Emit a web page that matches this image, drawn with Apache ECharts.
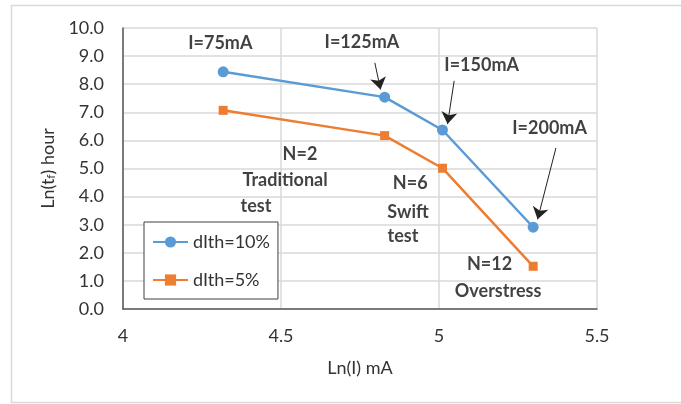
<!DOCTYPE html>
<html>
<head>
<meta charset="utf-8">
<script src="https://cdn.jsdelivr.net/npm/echarts@6/dist/echarts.min.js"></script>
<style>
  html, body { margin: 0; padding: 0; background: #fff; }
  #chart { width: 681px; height: 404px; }
</style>
</head>
<body>
<div id="chart"></div>
<script>
// Ln(I) for I = 75, 125, 150, 200 mA
var lnCurrent = [4.317, 4.828, 5.011, 5.298];
var dIth10 = [8.44, 7.54, 6.37, 2.91];
var dIth5 = [7.07, 6.17, 5.01, 1.52];
var seriesNames = ['dIth=10%', 'dIth=5%'];

// text notes, placed in data space [x, y, text]
var notes = [
  [4.308, 9.46, 'I=75mA'],
  [4.756, 9.49, 'I=125mA'],
  [5.135, 8.67, 'I=150mA'],
  [5.350, 6.45, 'I=200mA'],
  [4.560, 5.50, 'N=2'],
  [4.513, 4.59, 'Traditional'],
  [4.421, 3.67, 'test'],
  [4.909, 4.47, 'N=6'],
  [4.902, 3.46, 'Swift'],
  [4.886, 2.60, 'test'],
  [5.160, 1.60, 'N=12'],
  [5.187, 0.64, 'Overstress']
];
// arrows [fromX, fromY, toX, toY]
var arrows = [
  [4.797, 8.76, 4.815, 7.81],
  [5.048, 8.12, 5.027, 6.58],
  [5.370, 5.73, 5.312, 3.19]
];

function pairs(xs, ys) {
  return xs.map(function (x, i) { return [x, ys[i]]; });
}

var font = 'Lato, "Liberation Sans", sans-serif';
var myChart = echarts.init(document.getElementById('chart'));
var option = {
  animation: false,
  backgroundColor: '#fff',
  graphic: [{
    type: 'rect',
    shape: { x: 11.5, y: 5.5, width: 700, height: 397 },
    style: { fill: 'none', stroke: '#d9d9d9', lineWidth: 1.5 },
    silent: true
  }],
  grid: { left: 123, right: 84, top: 28, bottom: 95 },
  legend: {
    data: seriesNames,
    orient: 'vertical',
    left: 144,
    top: 222,
    backgroundColor: '#fff',
    borderColor: '#404040',
    borderWidth: 1,
    padding: [11, 8, 10, 8],
    itemGap: 20,
    itemWidth: 35,
    itemHeight: 14,
    textStyle: { fontFamily: font, fontSize: 18, color: '#333' }
  },
  xAxis: {
    type: 'value',
    min: 4, max: 5.5, interval: 0.5,
    name: 'Ln(I) mA',
    nameLocation: 'middle',
    nameGap: 50,
    nameTextStyle: { fontFamily: font, fontSize: 18, color: '#333' },
    axisLine: { lineStyle: { color: '#595959', width: 1.5 } },
    axisTick: { show: false },
    axisLabel: { margin: 18, fontFamily: font, fontSize: 18, color: '#333' },
    splitLine: { show: true, lineStyle: { color: '#d9d9d9', width: 1.5 } }
  },
  yAxis: {
    type: 'value',
    min: 0, max: 10, interval: 1,
    name: 'Ln(t{s|f}) hour',
    nameLocation: 'middle',
    nameGap: 63,
    nameTextStyle: {
      fontFamily: font, fontSize: 18, color: '#333',
      rich: { s: { fontFamily: font, fontSize: 12, color: '#333', padding: [6, 0, 0, 0] } }
    },
    axisLine: { show: true, lineStyle: { color: '#595959', width: 1.5 } },
    axisTick: { show: false },
    axisLabel: {
      margin: 19, fontFamily: font, fontSize: 18, color: '#333',
      formatter: function (v) { return v.toFixed(1); }
    },
    splitLine: { lineStyle: { color: '#d9d9d9', width: 1.5 } }
  },
  series: [{
    name: seriesNames[0],
    type: 'line',
    data: pairs(lnCurrent, dIth10),
    color: '#5B9BD5',
    symbol: 'circle',
    symbolSize: 11,
    lineStyle: { width: 2.5 },
    z: 3
  }, {
    name: seriesNames[1],
    type: 'line',
    data: pairs(lnCurrent, dIth5),
    color: '#ED7D31',
    symbol: 'rect',
    symbolSize: 9,
    lineStyle: { width: 2.5 },
    z: 3
  }, {
    name: 'notes',
    type: 'scatter',
    silent: true,
    symbolSize: 0,
    data: notes.map(function (n) { return { value: [n[0], n[1]], name: n[2] }; }),
    label: {
      show: true,
      position: 'inside',
      formatter: '{b}',
      fontFamily: font,
      fontWeight: 'bold',
      fontSize: 18,
      color: '#111'
    },
    markLine: {
      silent: true,
      symbol: ['none', 'arrow'],
      symbolSize: 12,
      label: { show: false },
      lineStyle: { color: '#222', width: 1, type: 'solid' },
      data: arrows.map(function (a) {
        return [{ coord: [a[0], a[1]] }, { coord: [a[2], a[3]] }];
      })
    },
    z: 4
  }]
};
myChart.setOption(option);
</script>
</body>
</html>
